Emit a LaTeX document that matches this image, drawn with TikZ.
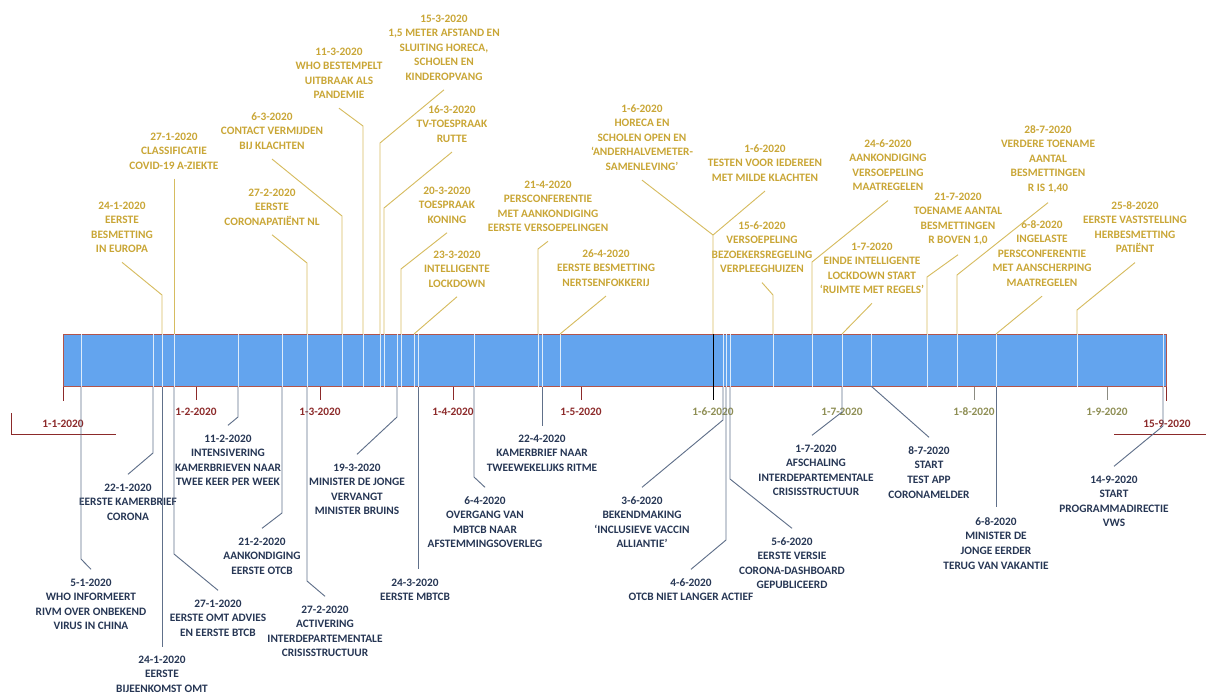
\documentclass[tikz,border=0pt]{standalone}
\usepackage{fontspec}
\setmainfont{Carlito}
\definecolor{goldtxt}{RGB}{201,166,54}
\definecolor{goldline}{RGB}{214,188,96}
\definecolor{darktxt}{RGB}{38,54,84}
\definecolor{blueline}{RGB}{96,112,138}
\definecolor{barfill}{RGB}{99,164,238}
\definecolor{barborder}{RGB}{178,84,74}
\definecolor{monthred}{RGB}{140,42,42}
\definecolor{montholive}{RGB}{142,142,84}
\definecolor{inbarc}{RGB}{222,236,250}
\definecolor{tickgray}{RGB}{140,140,130}
\begin{document}
\begin{tikzpicture}[x=0.75pt,y=-0.75pt,
  lbl/.style={font=\fontsize{8.5}{10.9}\selectfont\bfseries, align=center, inner sep=0pt, anchor=north},
  uplbl/.style={lbl, text=goldtxt},
  dnlbl/.style={lbl, text=darktxt},
  mon/.style={font=\fontsize{8.5}{10.9}\selectfont\bfseries, inner sep=0pt, text=monthred},
  monol/.style={mon, text=montholive},
  gl/.style={draw=goldline, line width=0.7pt},
  bl/.style={draw=blueline, line width=0.7pt},
  inb/.style={draw=inbarc, line width=0.7pt},
  tickr/.style={draw=monthred, line width=0.7pt},
  tickg/.style={draw=tickgray, line width=0.7pt}]
\useasboundingbox (0,0) rectangle (1206,693);

% bar
\node[draw=barborder, fill=barfill, line width=0.7pt, inner sep=0pt, minimum width=827.25pt, minimum height=39pt, anchor=north west] (bar) at (63,334) {};

% lines inside the bar
\foreach \x in {81,153,162,174,238,282,307,342,363,380,384,397,401,414,418,474,538,542,560,723,726,730,773,812,842,871,927,957,996,1077,1163}
  \draw[inb] (\x,0 |- bar.north) -- (\x,0 |- bar.south);

% month ticks and labels
\coordinate (c0) at (63,401);
\coordinate (c2) at (196,400);
\coordinate (c3) at (320,400);
\coordinate (c4) at (453,400);
\coordinate (c5) at (581,400);
\coordinate (c6) at (713,400);
\coordinate (c8) at (974,400);
\coordinate (c9) at (1107,400);
\coordinate (c10) at (1166,401);
\draw[tickr] (c0 |- bar.south) -- (c0);
\draw[tickr] (c10 |- bar.south) -- (c10);
\draw[tickr] (c2 |- bar.south) -- (c2);
\draw[tickr] (c3 |- bar.south) -- (c3);
\draw[tickr] (c4 |- bar.south) -- (c4);
\draw[tickr] (c5 |- bar.south) -- (c5);
\draw[black, line width=0.7pt] (c6 |- bar.north) -- (c6);
\draw[tickg] (c8 |- bar.south) -- (c8);
\draw[tickg] (c9 |- bar.south) -- (c9);

\node[mon] (m1) at (63,424) {1-1-2020};
\node[mon] (m2) at (196,412) {1-2-2020};
\node[mon] (m3) at (320,412) {1-3-2020};
\node[mon] (m4) at (453,412) {1-4-2020};
\node[mon] (m5) at (581,412) {1-5-2020};
\node[monol] (m6) at (713,412) {1-6-2020};
\node[monol] (m7) at (842,412) {1-7-2020};
\node[monol] (m8) at (974,412) {1-8-2020};
\node[monol] (m9) at (1107,412) {1-9-2020};
\node[mon] (m10) at (1167,424) {15-9-2020};
\coordinate (la) at (11,413);
\coordinate (lb) at (11,434);
\coordinate (lc) at (116,434);
\draw[tickr] (la) -- (lb) -- (lc);
\coordinate (ra) at (1114,434);
\coordinate (rb) at (1206,434);
\draw[tickr] (ra) -- (rb);

% ---------- top events ----------
\node[uplbl] (t1) at (122,201.3) {24-1-2020\\EERSTE\\BESMETTING\\IN EUROPA};
\node[uplbl] (t2) at (174,132.3) {27-1-2020\\CLASSIFICATIE\\COVID-19 A-ZIEKTE};
\node[uplbl] (t3) at (272,188.3) {27-2-2020\\EERSTE\\CORONAPATIËNT NL};
\node[uplbl] (t4) at (272,112.3) {6-3-2020\\CONTACT VERMIJDEN\\BIJ KLACHTEN};
\node[uplbl] (t5) at (339,47.3) {11-3-2020\\WHO BESTEMPELT\\UITBRAAK ALS\\PANDEMIE};
\node[uplbl] (t6) at (444,14.3) {15-3-2020\\1,5 METER AFSTAND EN\\SLUITING HORECA,\\SCHOLEN EN\\KINDEROPVANG};
\node[uplbl] (t7) at (452,105.3) {16-3-2020\\TV-TOESPRAAK\\RUTTE};
\node[uplbl] (t8) at (447,186.3) {20-3-2020\\TOESPRAAK\\KONING};
\node[uplbl] (t9) at (457,250.3) {23-3-2020\\INTELLIGENTE\\LOCKDOWN};
\node[uplbl] (t10) at (548,180.3) {21-4-2020\\PERSCONFERENTIE\\MET AANKONDIGING\\EERSTE VERSOEPELINGEN};
\node[uplbl] (t11) at (606,249.3) {26-4-2020\\EERSTE BESMETTING\\NERTSENFOKKERIJ};
\node[uplbl] (t12) at (642,104.3) {1-6-2020\\HORECA EN\\SCHOLEN OPEN EN\\‘ANDERHALVEMETER-\\SAMENLEVING’};
\node[uplbl] (t13) at (765,144.3) {1-6-2020\\TESTEN VOOR IEDEREEN\\MET MILDE KLACHTEN};
\node[uplbl] (t14) at (762,221.3) {15-6-2020\\VERSOEPELING\\BEZOEKERSREGELING\\VERPLEEGHUIZEN};
\node[uplbl] (t15) at (888,139.3) {24-6-2020\\AANKONDIGING\\VERSOEPELING\\MAATREGELEN};
\node[uplbl] (t16) at (872,242.3) {1-7-2020\\EINDE INTELLIGENTE\\LOCKDOWN START\\‘RUIMTE MET REGELS’};
\node[uplbl] (t17) at (958,192.3) {21-7-2020\\TOENAME AANTAL\\BESMETTINGEN\\R BOVEN 1,0};
\node[uplbl] (t18) at (1048,125.3) {28-7-2020\\VERDERE TOENAME\\AANTAL\\BESMETTINGEN\\R IS 1,40};
\node[uplbl] (t19) at (1042,220.3) {6-8-2020\\INGELASTE\\PERSCONFERENTIE\\MET AANSCHERPING\\MAATREGELEN};
\node[uplbl] (t20) at (1135,201.3) {25-8-2020\\EERSTE VASTSTELLING\\HERBESMETTING\\PATIËNT};

\coordinate (k1) at (162,295);
\coordinate (k2) at (174,178);
\coordinate (k3) at (307,263);
\coordinate (k4) at (342,216);
\coordinate (k5) at (363,126);
\coordinate (k6) at (380,143);
\coordinate (k7) at (384,208);
\coordinate (k8) at (401,269);
\coordinate (k9) at (414,334);
\coordinate (k10) at (538,249);
\coordinate (k11) at (560,334);
\coordinate (k12) at (713,235);
\coordinate (k14) at (773,295);
\coordinate (k15) at (812,262);
\coordinate (k16) at (842,334);
\coordinate (k17) at (927,277);
\coordinate (k18) at (957,275);
\coordinate (k19) at (996,334);
\coordinate (k20) at (1077,310);

\draw[gl] ([yshift=-7pt]t1.south) -- (k1) -- (k1 |- bar.north);
\draw[gl] ([yshift=-7pt]t2.south) -- (k2 |- bar.north);
\draw[gl] ([yshift=-7pt]t3.south) -- (k3) -- (k3 |- bar.north);
\draw[gl] ([yshift=-7pt]t4.south) -- (k4) -- (k4 |- bar.north);
\draw[gl] ([yshift=-7pt]t5.south) -- (k5) -- (k5 |- bar.north);
\draw[gl] ([yshift=-7pt]t6.south) -- (k6) -- (k6 |- bar.north);
\draw[gl] ([yshift=-7pt]t7.south) -- (k7) -- (k7 |- bar.north);
\draw[gl] ([yshift=-7pt]t8.south) -- (k8) -- (k8 |- bar.north);
\draw[gl] ([yshift=-7pt]t9.south) -- (k9);
\draw[gl] ([yshift=-7pt]t10.south) -- (k10) -- (k10 |- bar.north);
\draw[gl] ([yshift=-7pt]t11.south) -- (k11);
\draw[gl] ([yshift=-7pt]t12.south) -- (k12) -- (k12 |- bar.north);
\draw[gl] ([yshift=-7pt]t13.south) -- (k12);
\draw[gl] ([yshift=-7pt]t14.south) -- (k14) -- (k14 |- bar.north);
\draw[gl] ([yshift=-7pt]t15.south) -- (k15) -- (k15 |- bar.north);
\draw[gl] ([yshift=-7pt]t16.south) -- (k16);
\draw[gl] ([yshift=-7pt]t17.south) -- (k17) -- (k17 |- bar.north);
\draw[gl] ([yshift=-7pt]t18.south) -- (k18) -- (k18 |- bar.north);
\draw[gl] ([yshift=-7pt]t19.south) -- (k19);
\draw[gl] ([yshift=-7pt]t20.south) -- (k20) -- (k20 |- bar.north);

% ---------- bottom events ----------
\node[dnlbl] (b1) at (91,578.3) {5-1-2020\\WHO INFORMEERT\\RIVM OVER ONBEKEND\\VIRUS IN CHINA};
\node[dnlbl] (b2) at (128,483.3) {22-1-2020\\EERSTE KAMERBRIEF\\CORONA};
\node[dnlbl] (b3) at (162,655.3) {24-1-2020\\EERSTE\\BIJEENKOMST OMT};
\node[dnlbl] (b4) at (218,599.3) {27-1-2020\\EERSTE OMT ADVIES\\EN EERSTE BTCB};
\node[dnlbl] (b5) at (228,434.3) {11-2-2020\\INTENSIVERING\\KAMERBRIEVEN NAAR\\TWEE KEER PER WEEK};
\node[dnlbl] (b6) at (262,537.3) {21-2-2020\\AANKONDIGING\\EERSTE OTCB};
\node[dnlbl] (b7) at (325,605.3) {27-2-2020\\ACTIVERING\\INTERDEPARTEMENTALE\\CRISISSTRUCTUUR};
\node[dnlbl] (b8) at (357,463.3) {19-3-2020\\MINISTER DE JONGE\\VERVANGT\\MINISTER BRUINS};
\node[dnlbl] (b9) at (415,578.3) {24-3-2020\\EERSTE MBTCB};
\node[dnlbl] (b10) at (485,496.3) {6-4-2020\\OVERGANG VAN\\MBTCB NAAR\\AFSTEMMINGSOVERLEG};
\node[dnlbl] (b11) at (542,434.3) {22-4-2020\\KAMERBRIEF NAAR\\TWEEWEKELIJKS RITME};
\node[dnlbl] (b12) at (642,496.3) {3-6-2020\\BEKENDMAKING\\‘INCLUSIEVE VACCIN\\ALLIANTIE’};
\node[dnlbl] (b13) at (691,578.3) {4-6-2020\\OTCB NIET LANGER ACTIEF};
\node[dnlbl] (b14) at (792,537.3) {5-6-2020\\EERSTE VERSIE\\CORONA-DASHBOARD\\GEPUBLICEERD};
\node[dnlbl] (b15) at (816,444.3) {1-7-2020\\AFSCHALING\\INTERDEPARTEMENTALE\\CRISISSTRUCTUUR};
\node[dnlbl] (b16) at (929,446.3) {8-7-2020\\START\\TEST APP\\CORONAMELDER};
\node[dnlbl] (b17) at (996,517.3) {6-8-2020\\MINISTER DE\\JONGE EERDER\\TERUG VAN VAKANTIE};
\node[dnlbl] (b18) at (1114,475.3) {14-9-2020\\START\\PROGRAMMADIRECTIE\\VWS};

\coordinate (j1) at (81,559);
\coordinate (j2) at (153,453);
\coordinate (j3) at (162,647);
\coordinate (j4) at (174,554);
\coordinate (j5) at (238,417);
\coordinate (j6) at (282,513);
\coordinate (j7) at (307,581);
\coordinate (j8) at (397,417);
\coordinate (j9) at (418,569);
\coordinate (j10) at (474,477);
\coordinate (j11) at (542,426);
\coordinate (j12) at (723,420);
\coordinate (j13) at (726,540);
\coordinate (j14) at (730,479);
\coordinate (j15) at (842,412);
\coordinate (j16) at (871,386);
\coordinate (j17) at (996,507);
\coordinate (j18) at (1163,426);

\draw[bl] (j1 |- bar.south) -- (j1) -- ([yshift=6.75pt]b1.north);
\draw[bl] (j2 |- bar.south) -- (j2) -- ([yshift=6.75pt]b2.north);
\draw[bl] (j3 |- bar.south) -- (j3);
\draw[bl] (j4 |- bar.south) -- (j4) -- ([yshift=6.75pt]b4.north);
\draw[bl] (j5 |- bar.south) -- (j5) -- ([yshift=6.75pt]b5.north);
\draw[bl] (j6 |- bar.south) -- (j6) -- ([yshift=6.75pt]b6.north);
\draw[bl] (j7 |- bar.south) -- (j7) -- ([yshift=6.75pt]b7.north);
\draw[bl] (j8 |- bar.south) -- (j8) -- ([yshift=6.75pt]b8.north);
\draw[bl] (j9 |- bar.south) -- (j9);
\draw[bl] (j10 |- bar.south) -- (j10) -- ([yshift=6.75pt]b10.north);
\draw[bl] (j11 |- bar.south) -- (j11);
\draw[bl] (j12 |- bar.south) -- (j12) -- ([yshift=6.75pt]b12.north);
\draw[bl] (j13 |- bar.south) -- (j13) -- ([yshift=6.75pt]b13.north);
\draw[bl] (j14 |- bar.south) -- (j14) -- ([yshift=6.75pt]b14.north);
\draw[bl] (j15 |- bar.south) -- (j15) -- ([yshift=6.75pt,xshift=-3pt]b15.north);
\draw[bl] (j16) -- ([yshift=6.75pt]b16.north);
\draw[bl] (j17 |- bar.south) -- (j17);
\draw[bl] (j18 |- bar.south) -- (j18) -- ([yshift=6.75pt]b18.north);
\end{tikzpicture}
\end{document}
